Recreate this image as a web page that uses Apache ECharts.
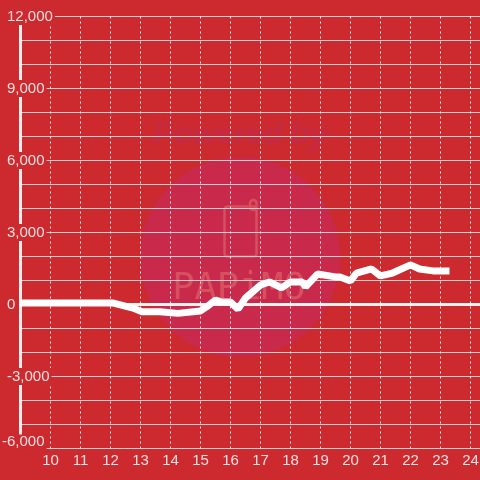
<!DOCTYPE html>
<html><head><meta charset="utf-8">
<style>html,body{margin:0;padding:0;background:#cc2a2e}#c{width:480px;height:480px}</style>
<script src="https://cdn.jsdelivr.net/npm/echarts@6/dist/echarts.min.js"></script>
</head><body><div id="c"></div>
<script>
const xValues=[9,12,12.1,12.75,13.05,13.65,14.25,15,15.2,15.5,15.7,16,16.25,16.5,17,17.3,17.7,18,18.4,18.5,18.9,19.5,19.65,20,20.2,20.7,21,21.4,22,22.3,22.75,23.3];
const yValues=[60,60,60,-150,-300,-300,-370,-270,-100,190,100,100,-190,270,810,940,690,940,940,730,1270,1150,1150,980,1310,1480,1190,1310,1650,1480,1400,1400];
const BG='#cc2a2e', LABEL='rgba(255,255,255,0.85)', GRID='#cfcfcf';
const chart=echarts.init(document.getElementById('c'),null,{renderer:'canvas'});
chart.setOption({
  animation:false,backgroundColor:BG,
  grid:{left:20.5,right:-20.5,top:16.5,bottom:31.5,containLabel:false,outerBoundsMode:'none'},
  graphic:[
    {type:'circle',z:-10,silent:true,shape:{cx:240,cy:257,r:100},style:{fill:'#c9294a'}},
    {type:'text',z:-9,silent:true,x:240,y:135,style:{text:'Powered by',align:'center',verticalAlign:'middle',font:'italic bold 31px "Liberation Sans"',fill:'#c62a42'}},
    {type:'rect',z:-9,silent:true,shape:{x:224.5,y:206.5,width:32,height:50,r:3},style:{fill:'none',stroke:'#d6505f',lineWidth:2.5}},
    {type:'rect',z:-9,silent:true,shape:{x:250,y:200,width:6.5,height:10,r:3},style:{fill:'none',stroke:'#d6505f',lineWidth:2.5}},
    {type:'text',z:-9,silent:true,x:239,y:289,style:{text:'PAPiMO',align:'center',verticalAlign:'middle',font:'37px "DejaVu Sans Mono"',fill:'#d6505f'}}
  ],
  xAxis:[{
    type:'value',min:9,max:25,interval:1,position:'bottom',
    axisLine:{show:false,onZero:false},axisTick:{show:false},
    axisLabel:{color:LABEL,fontSize:15,fontFamily:'Liberation Sans',margin:5,showMinLabel:false,showMaxLabel:false},
    splitLine:{show:true,lineStyle:{color:'#ebebeb',width:1,type:[2,3]}}
  },{
    type:'value',min:9,max:25,interval:1,
    axisLine:{show:true,onZero:true,lineStyle:{color:'#f7f3f3',width:3}},
    axisTick:{show:false},axisLabel:{show:false},splitLine:{show:false}
  }],
  yAxis:{
    type:'value',min:-6000,max:12000,interval:3000,
    axisLine:{show:true,onZero:false,lineStyle:{color:'#f1eeee',width:3}},
    axisTick:{show:false},
    minorTick:{show:false,splitNumber:3},
    splitLine:{show:true,lineStyle:{color:GRID,width:1}},
    minorSplitLine:{show:true,lineStyle:{color:GRID,width:1}},
    axisLabel:{
      inside:false,margin:18.5,align:'left',color:LABEL,fontSize:15,fontFamily:'Liberation Sans',
      formatter:v=>{
        const s=v.toLocaleString('en-US');
        return v===-6000?'{low|'+s+'}':'{std|'+s+'}';
      },
      rich:{
        std:{color:LABEL,fontSize:15,fontFamily:'Liberation Sans',backgroundColor:BG,padding:[1,2,1,5]},
        low:{color:LABEL,fontSize:15,fontFamily:'Liberation Sans',backgroundColor:BG,padding:[0,2,13,0]}
      }
    }
  },
  series:[{
    type:'line',xAxisIndex:0,yAxisIndex:0,
    data:xValues.map((x,i)=>[x,yValues[i]]),
    showSymbol:false,smooth:false,z:5,clip:false,
    lineStyle:{color:'#ffffff',width:7,cap:'butt',join:'bevel'}
  }]
});
</script></body></html>
